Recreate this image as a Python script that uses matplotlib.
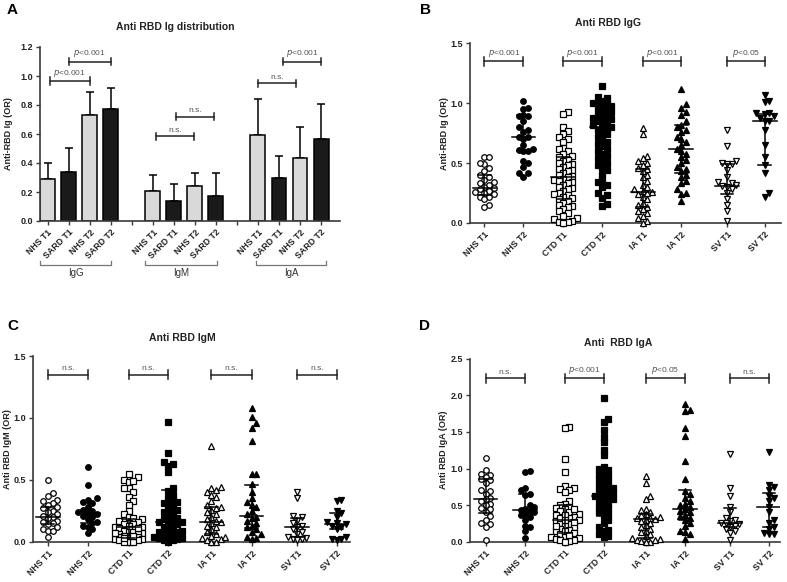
import numpy as np
import matplotlib.pyplot as plt

plt.rcParams['font.family'] = ['Liberation Sans', 'DejaVu Sans']

# ---- panel A: bar chart of means + SD ----
bar_labels = ['NHS T1', 'SARD T1', 'NHS T2', 'SARD T2']
iso_names = ['IgG', 'IgM', 'IgA']
igg_mean = [0.29, 0.335, 0.73, 0.775]
igg_sd = [0.11, 0.17, 0.16, 0.145]
igm_mean = [0.21, 0.135, 0.24, 0.175]
igm_sd = [0.105, 0.12, 0.09, 0.155]
iga_mean = [0.595, 0.295, 0.435, 0.565]
iga_sd = [0.245, 0.15, 0.215, 0.245]

# ---- panels B-D: scatter of individual values ----
cats = ['NHS T1', 'NHS T2', 'CTD T1', 'CTD T2', 'IA T1', 'IA T2', 'SV T1', 'SV T2']

igg_vals = [
    [0.55, 0.55, 0.49, 0.50, 0.46, 0.43, 0.40, 0.38, 0.36, 0.34, 0.33, 0.32, 0.30, 0.29,
     0.28, 0.27, 0.26, 0.25, 0.24, 0.22, 0.22, 0.20, 0.15, 0.13],
    [1.02, 0.96, 0.95, 0.90, 0.89, 0.89, 0.85, 0.80, 0.78, 0.76, 0.72, 0.72, 0.70, 0.65,
     0.62, 0.61, 0.60, 0.60, 0.52, 0.50, 0.47, 0.42, 0.42, 0.38],
    [0.93, 0.91, 0.80, 0.77, 0.74, 0.72, 0.70, 0.68, 0.63, 0.62, 0.60, 0.58, 0.56, 0.55,
     0.53, 0.52, 0.50, 0.49, 0.48, 0.47, 0.45, 0.44, 0.43, 0.42, 0.40, 0.39, 0.38, 0.37,
     0.36, 0.35, 0.34, 0.33, 0.32, 0.30, 0.29, 0.28, 0.27, 0.25, 0.24, 0.23, 0.22, 0.21,
     0.20, 0.18, 0.17, 0.15, 0.14, 0.13, 0.12, 0.10, 0.08, 0.06, 0.04, 0.03, 0.02, 0.01,
     0.01, 0.00],
    [1.14, 1.05, 1.04, 1.02, 1.00, 1.00, 0.99, 0.98, 0.97, 0.95, 0.94, 0.93, 0.92, 0.90,
     0.89, 0.88, 0.87, 0.86, 0.85, 0.84, 0.82, 0.81, 0.80, 0.79, 0.78, 0.76, 0.74, 0.72,
     0.70, 0.68, 0.66, 0.64, 0.62, 0.60, 0.58, 0.56, 0.54, 0.52, 0.50, 0.48, 0.46, 0.44,
     0.40, 0.35, 0.34, 0.32, 0.30, 0.25, 0.23, 0.21, 0.16, 0.14],
    [0.79, 0.74, 0.56, 0.54, 0.52, 0.50, 0.48, 0.46, 0.45, 0.43, 0.40, 0.38, 0.35, 0.32,
     0.30, 0.28, 0.27, 0.26, 0.25, 0.24, 0.22, 0.20, 0.17, 0.15, 0.13, 0.12, 0.10, 0.08,
     0.06, 0.04, 0.02, 0.00],
    [1.12, 0.99, 0.96, 0.93, 0.90, 0.85, 0.82, 0.80, 0.78, 0.76, 0.72, 0.70, 0.68, 0.65,
     0.62, 0.60, 0.58, 0.55, 0.53, 0.50, 0.47, 0.45, 0.43, 0.40, 0.38, 0.35, 0.33, 0.28,
     0.25, 0.24, 0.18],
    [0.78, 0.64, 0.52, 0.50, 0.49, 0.49, 0.44, 0.38, 0.34, 0.33, 0.32, 0.31, 0.30, 0.28,
     0.25, 0.20, 0.15, 0.10, 0.02],
    [1.07, 1.02, 1.01, 0.92, 0.92, 0.91, 0.89, 0.88, 0.85, 0.85, 0.78, 0.65, 0.55, 0.48,
     0.42, 0.25, 0.22],
]
igg_med = [0.29, 0.72, 0.38, 0.80, 0.26, 0.62, 0.31, 0.85]
igg_q1 = [0.23, 0.60, 0.20, 0.55, 0.13, 0.42, 0.24, 0.48]
igg_q3 = [0.40, 0.90, 0.55, 0.96, 0.45, 0.82, 0.49, 0.91]

igm_vals = [
    [0.50, 0.39, 0.37, 0.34, 0.33, 0.31, 0.30, 0.28, 0.27, 0.25, 0.24, 0.22, 0.21, 0.20,
     0.19, 0.17, 0.16, 0.15, 0.14, 0.12, 0.10, 0.09, 0.09, 0.04],
    [0.60, 0.46, 0.35, 0.34, 0.32, 0.31, 0.28, 0.26, 0.25, 0.24, 0.23, 0.22, 0.21, 0.20,
     0.18, 0.16, 0.15, 0.13, 0.12, 0.10, 0.07],
    [0.55, 0.52, 0.50, 0.48, 0.49, 0.43, 0.43, 0.40, 0.36, 0.33, 0.30, 0.25, 0.22, 0.20,
     0.19, 0.18, 0.17, 0.16, 0.15, 0.14, 0.14, 0.13, 0.12, 0.12, 0.11, 0.10, 0.10, 0.09,
     0.08, 0.08, 0.07, 0.06, 0.06, 0.05, 0.05, 0.04, 0.04, 0.03, 0.03, 0.02, 0.02, 0.01,
     0.01, 0.00, 0.00, 0.07, 0.11, 0.03, 0.00, 0.05],
    [0.97, 0.72, 0.64, 0.63, 0.61, 0.56, 0.43, 0.41, 0.38, 0.35, 0.33, 0.32, 0.30, 0.28,
     0.26, 0.24, 0.22, 0.20, 0.18, 0.17, 0.16, 0.15, 0.14, 0.12, 0.10, 0.09, 0.08, 0.07,
     0.06, 0.05, 0.04, 0.03, 0.02, 0.01, 0.00, 0.01, 0.03, 0.05, 0.08, 0.12, 0.16, 0.19,
     0.25, 0.31],
    [0.77, 0.44, 0.43, 0.42, 0.40, 0.38, 0.36, 0.33, 0.30, 0.28, 0.27, 0.26, 0.24, 0.22,
     0.20, 0.18, 0.17, 0.16, 0.15, 0.13, 0.12, 0.10, 0.08, 0.06, 0.05, 0.03, 0.02, 0.01,
     0.00, 0.00, 0.04],
    [1.08, 1.01, 0.96, 0.92, 0.81, 0.55, 0.55, 0.47, 0.40, 0.35, 0.32, 0.30, 0.28, 0.25,
     0.22, 0.20, 0.19, 0.17, 0.15, 0.13, 0.12, 0.10, 0.08, 0.06, 0.04, 0.03, 0.02],
    [0.40, 0.35, 0.21, 0.20, 0.17, 0.15, 0.13, 0.12, 0.10, 0.08, 0.06, 0.04, 0.03, 0.02,
     0.02, 0.01],
    [0.34, 0.33, 0.25, 0.23, 0.20, 0.16, 0.15, 0.14, 0.13, 0.12, 0.10, 0.04, 0.02, 0.02,
     0.01],
]
igm_med = [0.20, 0.23, 0.12, 0.16, 0.16, 0.21, 0.12, 0.14]
igm_q1 = [0.14, 0.15, 0.03, 0.05, 0.06, 0.11, 0.04, 0.10]
igm_q3 = [0.28, 0.32, 0.18, 0.42, 0.28, 0.46, 0.19, 0.23]

iga_vals = [
    [1.14, 0.98, 0.93, 0.91, 0.88, 0.85, 0.84, 0.80, 0.70, 0.69, 0.65, 0.60, 0.58, 0.55,
     0.52, 0.50, 0.46, 0.44, 0.40, 0.35, 0.30, 0.26, 0.24, 0.20, 0.03],
    [0.96, 0.95, 0.74, 0.70, 0.65, 0.64, 0.50, 0.48, 0.45, 0.43, 0.42, 0.40, 0.38, 0.36,
     0.34, 0.30, 0.22, 0.20, 0.15, 0.05],
    [1.57, 1.55, 1.13, 0.95, 0.76, 0.74, 0.72, 0.70, 0.68, 0.55, 0.52, 0.50, 0.48, 0.46,
     0.44, 0.42, 0.40, 0.38, 0.36, 0.34, 0.32, 0.30, 0.28, 0.26, 0.24, 0.22, 0.20, 0.18,
     0.16, 0.14, 0.12, 0.10, 0.08, 0.06, 0.05, 0.04, 0.03, 0.02, 0.01, 0.00, 0.33, 0.27,
     0.21, 0.15, 0.09, 0.45, 0.36, 0.29],
    [1.96, 1.68, 1.63, 1.53, 1.43, 1.36, 1.25, 1.18, 1.02, 1.00, 0.98, 0.95, 0.93, 0.90,
     0.87, 0.85, 0.82, 0.80, 0.78, 0.75, 0.72, 0.70, 0.68, 0.65, 0.63, 0.60, 0.58, 0.55,
     0.52, 0.50, 0.48, 0.45, 0.42, 0.40, 0.38, 0.35, 0.30, 0.25, 0.20, 0.16, 0.15, 0.10,
     0.08, 0.07, 0.62, 0.57, 0.66, 0.73],
    [0.90, 0.80, 0.63, 0.58, 0.45, 0.43, 0.40, 0.38, 0.36, 0.33, 0.32, 0.30, 0.28, 0.26,
     0.23, 0.20, 0.18, 0.15, 0.13, 0.10, 0.08, 0.05, 0.04, 0.03, 0.02, 0.01, 0.00, 0.00,
     0.31, 0.34],
    [1.88, 1.80, 1.79, 1.56, 1.44, 1.10, 0.86, 0.69, 0.65, 0.60, 0.55, 0.52, 0.50, 0.48,
     0.45, 0.42, 0.40, 0.37, 0.35, 0.33, 0.30, 0.25, 0.22, 0.15, 0.13, 0.10, 0.04],
    [1.20, 0.74, 0.62, 0.47, 0.40, 0.32, 0.30, 0.28, 0.26, 0.25, 0.24, 0.22, 0.20, 0.18,
     0.15, 0.12, 0.03],
    [1.23, 0.78, 0.75, 0.70, 0.62, 0.60, 0.55, 0.48, 0.40, 0.30, 0.25, 0.20, 0.18, 0.12,
     0.10, 0.10],
]
iga_med = [0.59, 0.43, 0.30, 0.63, 0.31, 0.45, 0.26, 0.47]
iga_q1 = [0.39, 0.35, 0.12, 0.35, 0.05, 0.30, 0.20, 0.20]
iga_q3 = [0.85, 0.65, 0.50, 0.90, 0.38, 0.70, 0.46, 0.66]

INK = '#222222'
AX = '#3a3a3a'
PCOL = '#555555'


def style_axes(ax):
    for s in ['top', 'right']:
        ax.spines[s].set_visible(False)
    for s in ['left', 'bottom']:
        ax.spines[s].set_color(AX)
        ax.spines[s].set_linewidth(1.2)
    ax.tick_params(axis='both', colors=AX, width=1.0, length=3, labelcolor=INK, pad=2)
    for t in ax.get_yticklabels():
        t.set_fontweight('bold')
        t.set_fontsize(6.5)


def bracket(ax, x1, x2, y, text, dy):
    ax.plot([x1, x2], [y, y], color=INK, lw=1.1, clip_on=False)
    for x in (x1, x2):
        ax.plot([x, x], [y - dy, y + dy], color=INK, lw=1.1, clip_on=False)
    ax.text((x1 + x2) / 2, y + dy * 0.6, text, ha='center', va='bottom',
            fontsize=6, color=PCOL, clip_on=False)


def swarm_x(ax, x0, vals, step=4.6, ythr=5.0, maxc=3):
    # spread points sideways (in pixels) so that close values do not sit on top of each other
    vals = np.asarray(vals, float)
    pts = ax.transData.transform(np.column_stack([np.full(len(vals), x0), vals]))
    ypx = pts[:, 1]
    cands = [0]
    for j in range(1, maxc + 1):
        cands += [j, -j]
    placed = []
    offs = np.zeros(len(vals))
    for i in np.argsort(ypx):
        best, best_n = 0, None
        for c in cands:
            xo = c * step
            n = sum(1 for px, py in placed
                    if abs(xo - px) < step * 0.95 and abs(ypx[i] - py) < ythr)
            if best_n is None or n < best_n:
                best, best_n = xo, n
            if n == 0:
                break
        placed.append((best, ypx[i]))
        offs[i] = best
    ppu = ax.transData.transform((1, 0))[0] - ax.transData.transform((0, 0))[0]
    return x0 + offs / ppu


def scatter_panel(ax, pos, vals, med, q1, q3, xlim, ymax, yticks, ylabel, lab_x, sig, sig_y):
    ax.set_xlim(*xlim)
    ax.set_ylim(0, ymax)
    markers = ['o', 'o', 's', 's', '^', '^', 'v', 'v']
    for i, v in enumerate(vals):
        xs = swarm_x(ax, pos[i], v)
        filled = i % 2 == 1
        ax.plot(xs, v, ls='none', marker=markers[i], ms=4.0, mew=0.9,
                mec='black', mfc='black' if filled else 'white', zorder=3, clip_on=False)
        ax.plot([pos[i] - 0.3, pos[i] + 0.3], [med[i], med[i]], color='black', lw=1.1, zorder=4)
        ax.plot([pos[i], pos[i]], [q1[i], q3[i]], color='black', lw=1.1, zorder=4)
        for q in (q1[i], q3[i]):
            ax.plot([pos[i] - 0.16, pos[i] + 0.16], [q, q], color='black', lw=1.1, zorder=4)
    ax.set_yticks(yticks)
    ax.set_yticklabels(['%.1f' % t for t in yticks])
    ax.set_xticks(pos)
    ax.set_xticklabels(cats, rotation=45, ha='right', rotation_mode='anchor',
                       fontsize=6.3, fontweight='bold')
    ax.set_ylabel(ylabel, fontsize=6.5, fontweight='bold', color=INK)
    ax.yaxis.set_label_coords(lab_x, 0.5)
    style_axes(ax)
    dy = 0.024 * ymax
    for k in range(4):
        bracket(ax, pos[2 * k], pos[2 * k + 1], sig_y, sig[k], dy)


fig = plt.figure(figsize=(7.87, 5.82), dpi=100)

# ---------- A ----------
axA = fig.add_axes([40 / 787, 1 - 221 / 582, 300 / 787, 174 / 582])
bar_pos = [0, 1, 2, 3, 5, 6, 7, 8, 10, 11, 12, 13]
means = igg_mean + igm_mean + iga_mean
sds = igg_sd + igm_sd + iga_sd
cols = ['#d9d9d9', '#1a1a1a'] * 6
axA.bar(bar_pos, means, width=0.71, color=cols, edgecolor='black', linewidth=1.1, zorder=2)
axA.errorbar(bar_pos, means, yerr=[np.zeros(12), sds], fmt='none', ecolor='black',
             elinewidth=1.1, capsize=3, capthick=1.1, zorder=1)
axA.set_xlim(-0.36, 13.9)
axA.set_ylim(0, 1.2)
axA.set_yticks(np.arange(0, 1.21, 0.2))
axA.set_yticklabels(['%.1f' % t for t in np.arange(0, 1.21, 0.2)])
axA.set_xticks(bar_pos + [4, 9])
axA.set_xticklabels(bar_labels * 3 + ['', ''], rotation=45, ha='right',
                    rotation_mode='anchor', fontsize=6.3, fontweight='bold')
axA.set_ylabel('Anti-RBD Ig (OR)', fontsize=6.5, fontweight='bold', color=INK)
axA.yaxis.set_label_coords(-0.09, 0.5)
style_axes(axA)
bracket(axA, 0.1, 2.0, 0.965, '$p$<0.001', 0.025)
bracket(axA, 1.0, 3.0, 1.10, '$p$<0.001', 0.025)
bracket(axA, 5.15, 6.95, 0.585, 'n.s.', 0.025)
bracket(axA, 6.1, 7.9, 0.72, 'n.s.', 0.025)
bracket(axA, 10.0, 11.8, 0.95, 'n.s.', 0.025)
bracket(axA, 11.2, 13.0, 1.10, '$p$<0.001', 0.025)
grp_span = [(-0.35, 3.02), (4.63, 8.06), (9.9, 13.25)]
for (g0, g1), name in zip(grp_span, iso_names):
    axA.plot([g0, g0, g1, g1], [-0.232, -0.253, -0.253, -0.232], color='#777777', lw=0.9,
             transform=axA.get_xaxis_transform(), clip_on=False)
    axA.text((g0 + g1) / 2, -0.27, name, ha='center', va='top', fontsize=7, color='#333333',
             transform=axA.get_xaxis_transform())

# ---------- B ----------
axB = fig.add_axes([470.3 / 787, 1 - 223 / 582, 311 / 787, 179.7 / 582])
scatter_panel(axB, [0, 0.99, 2.0, 2.99, 4.02, 5.0, 6.16, 7.12], igg_vals, igg_med, igg_q1, igg_q3,
              (-0.36, 7.54), 1.5, [0, 0.5, 1.0, 1.5], 'Anti-RBD Ig (OR)', -0.068,
              ['$p$<0.001', '$p$<0.001', '$p$<0.001', '$p$<0.05'], 1.35)

# ---------- C ----------
axC = fig.add_axes([33.3 / 787, 1 - 541.7 / 582, 316.7 / 787, 185.7 / 582])
scatter_panel(axC, [0, 1.0, 2.03, 3.03, 4.12, 5.13, 6.28, 7.27], igm_vals, igm_med, igm_q1, igm_q3,
              (-0.37, 7.61), 1.5, [0, 0.5, 1.0, 1.5], 'Anti RBD IgM (OR)', -0.066,
              ['n.s.', 'n.s.', 'n.s.', 'n.s.'], 1.35)

# ---------- D ----------
axD = fig.add_axes([470.3 / 787, 1 - 541.7 / 582, 309.7 / 787, 183 / 582])
scatter_panel(axD, [0, 1.01, 2.02, 3.01, 4.08, 5.08, 6.23, 7.22], iga_vals, iga_med, iga_q1, iga_q3,
              (-0.39, 7.5), 2.5, [0, 0.5, 1.0, 1.5, 2.0, 2.5], 'Anti RBD IgA (OR)', -0.072,
              ['n.s.', '$p$<0.001', '$p$<0.05', 'n.s.'], 2.23)

# titles and panel letters
fig.text(175.5 / 787, 1 - 27.5 / 582, 'Anti RBD Ig distribution', ha='center', va='center',
         fontsize=7.5, fontweight='bold', color=INK)
fig.text(608 / 787, 1 - 23 / 582, 'Anti RBD IgG', ha='center', va='center',
         fontsize=7.5, fontweight='bold', color=INK)
fig.text(182.5 / 787, 1 - 338 / 582, 'Anti RBD IgM', ha='center', va='center',
         fontsize=7.5, fontweight='bold', color=INK)
fig.text(618.5 / 787, 1 - 343 / 582, 'Anti  RBD IgA', ha='center', va='center',
         fontsize=7.5, fontweight='bold', color=INK)
for lab, x, y in [('A', 7, 3), ('B', 420, 3), ('C', 7, 319), ('D', 419, 319)]:
    fig.text(x / 787, 1 - y / 582, lab, ha='left', va='top', fontsize=11,
             fontweight='bold', color='black')

fig.savefig('out.png', dpi=100, facecolor='white')
